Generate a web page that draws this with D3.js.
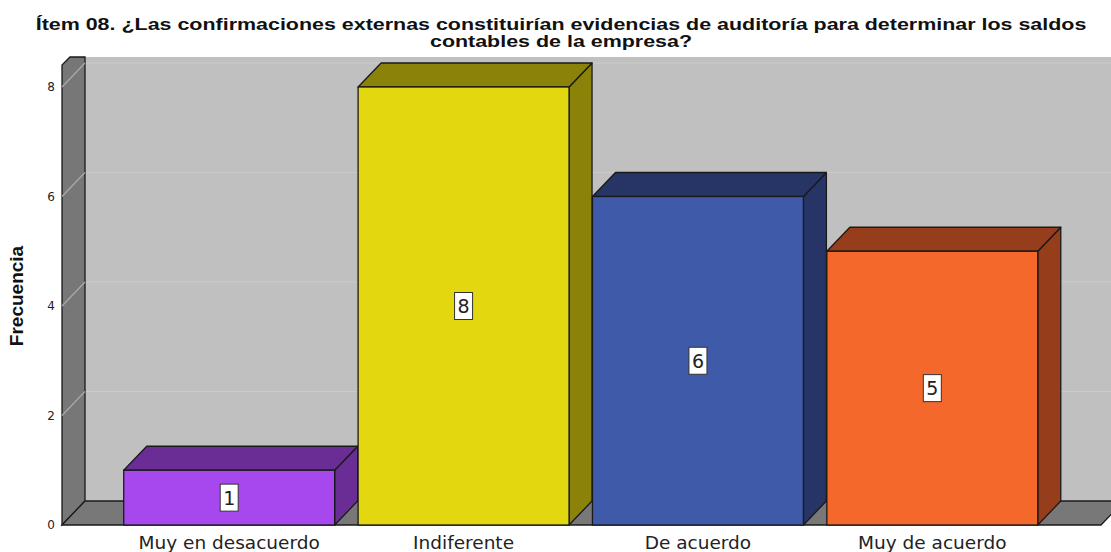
<!DOCTYPE html>
<html>
<head>
    <meta charset="utf-8">
    <script type="text/javascript" src="https://cdn.jsdelivr.net/npm/d3@7/dist/d3.min.js" charset="utf-8"></script>
    <style>
        body { margin: 0; background: #fff; }
        svg { display: block; }
    </style>
</head>
<body>
    <div id="viz"></div>
    <script type="text/javascript">
    //Data
    var categories = ["Muy en desacuerdo", "Indiferente", "De acuerdo", "Muy de acuerdo"];
    var counts = [1, 8, 6, 5];
    var yTicks = [0, 2, 4, 6, 8];
    var frontColors = ["#a748ef", "#e3d70f", "#3f5aa8", "#f4692b"];
    var sideColors = ["#6a2d95", "#8b8209", "#263566", "#963e1c"];
    var titleLines = ["Ítem 08. ¿Las confirmaciones externas constituirían evidencias de auditoría para determinar los saldos",
                      "contables de la empresa?"];

    //Sizes
    var width = 1111;
    var height = 552;
    var dx = 23;            //depth offset, horizontal
    var dy = 24;            //depth offset, vertical
    var floorLeft = 62;
    var floorRight = 1101;
    var topBack = 57;
    var titleWidth = 1051;  //width of the first title line in the picture

    var svg = d3.select("#viz")
        .append("svg")
        .attr("width", width)
        .attr("height", height);

    //Scales
    var y = d3.scaleLinear().domain([0, 8]).range([525, 87]);
    var x = d3.scaleBand().domain(categories)
        .range([112, 1049.5])
        .paddingInner(0.1)
        .paddingOuter(0.05);

    var y0 = y(0);

    function pts(arr) { return arr.map(function(p) { return p.join(","); }).join(" "); }

    //Back wall
    svg.append("rect")
        .attr("x", floorLeft + dx)
        .attr("y", topBack)
        .attr("width", width - floorLeft - dx)
        .attr("height", y0 - dy - topBack)
        .attr("fill", "#c0c0c0");

    //Gridlines on back wall
    svg.selectAll("line.grid")
        .data(yTicks.filter(function(d) { return d > 0; }))
        .enter()
        .append("line")
        .attr("class", "grid")
        .attr("x1", floorLeft + dx)
        .attr("x2", width)
        .attr("y1", function(d) { return y(d) - dy; })
        .attr("y2", function(d) { return y(d) - dy; })
        .attr("stroke", "#cbcbcb")
        .attr("stroke-width", 1.2);

    //Left wall
    var wallPts = [[floorLeft, y0], [floorLeft, y(8.4)], [floorLeft + 8, topBack],
                   [floorLeft + dx, topBack], [floorLeft + dx, y0 - dy]];
    svg.append("polygon")
        .attr("points", pts(wallPts))
        .attr("fill", "#777777")
        .attr("stroke", "#1a1a1a")
        .attr("stroke-width", 1.3);

    //Gridlines on left wall
    svg.selectAll("line.wallgrid")
        .data(yTicks.filter(function(d) { return d > 0; }))
        .enter()
        .append("line")
        .attr("class", "wallgrid")
        .attr("x1", floorLeft)
        .attr("x2", floorLeft + dx)
        .attr("y1", function(d) { return y(d); })
        .attr("y2", function(d) { return y(d) - dy; })
        .attr("stroke", "#a8a8a8")
        .attr("stroke-width", 1.3);

    //Floor
    var floorPts = [[floorLeft, y0], [floorLeft + dx, y0 - dy], [floorRight + dx, y0 - dy], [floorRight, y0]];
    svg.append("polygon")
        .attr("points", pts(floorPts))
        .attr("fill", "#787878")
        .attr("stroke", "#1a1a1a")
        .attr("stroke-width", 1.3);

    //Bars
    var bars = svg.selectAll("g.bar")
        .data(categories)
        .enter()
        .append("g")
        .attr("class", "bar");

    //Right side
    bars.append("polygon")
        .attr("points", function(d, i) {
            var x1 = x(d) + x.bandwidth(), yt = y(counts[i]);
            return pts([[x1, yt], [x1 + dx, yt - dy], [x1 + dx, y0 - dy], [x1, y0]]);
        })
        .attr("fill", function(d, i) { return sideColors[i]; })
        .attr("stroke", "#1a1a1a")
        .attr("stroke-width", 1.3)
        .attr("stroke-linejoin", "round");

    //Top
    bars.append("polygon")
        .attr("points", function(d, i) {
            var x0 = x(d), x1 = x0 + x.bandwidth(), yt = y(counts[i]);
            return pts([[x0, yt], [x0 + dx, yt - dy], [x1 + dx, yt - dy], [x1, yt]]);
        })
        .attr("fill", function(d, i) { return sideColors[i]; })
        .attr("stroke", "#1a1a1a")
        .attr("stroke-width", 1.3)
        .attr("stroke-linejoin", "round");

    //Front
    bars.append("rect")
        .attr("x", function(d) { return x(d); })
        .attr("y", function(d, i) { return y(counts[i]); })
        .attr("width", x.bandwidth())
        .attr("height", function(d, i) { return y0 - y(counts[i]); })
        .attr("fill", function(d, i) { return frontColors[i]; })
        .attr("stroke", "#1a1a1a")
        .attr("stroke-width", 1.3);

    //Value labels
    bars.append("rect")
        .attr("x", function(d) { return x(d) + x.bandwidth() / 2 - 9; })
        .attr("y", function(d, i) { return y(counts[i] / 2) - 13.5; })
        .attr("width", 18)
        .attr("height", 27)
        .attr("fill", "#ffffff")
        .attr("stroke", "#333333")
        .attr("stroke-width", 1);

    bars.append("text")
        .attr("x", function(d) { return x(d) + x.bandwidth() / 2; })
        .attr("y", function(d, i) { return y(counts[i] / 2) + 7; })
        .attr("text-anchor", "middle")
        .style("font-family", "'DejaVu Sans', sans-serif")
        .style("font-size", "19px")
        .style("fill", "#222")
        .text(function(d, i) { return counts[i]; });

    //Y axis tick labels
    var yAxis = d3.axisLeft(y).tickValues(yTicks).tickSize(0).tickPadding(6);
    var yAxisG = svg.append("g")
        .attr("transform", "translate(" + (floorLeft - 1) + ",0)")
        .call(yAxis);
    yAxisG.select(".domain").remove();
    yAxisG.selectAll("text")
        .style("font-family", "'DejaVu Sans', sans-serif")
        .style("font-size", "12px")
        .style("fill", "#222");

    //X labels
    svg.selectAll("text.xlab")
        .data(categories)
        .enter()
        .append("text")
        .attr("class", "xlab")
        .attr("x", function(d) { return x(d) + x.bandwidth() / 2; })
        .attr("y", 549)
        .attr("text-anchor", "middle")
        .style("font-family", "'DejaVu Sans', sans-serif")
        .style("font-size", "18.5px")
        .style("fill", "#222")
        .text(function(d) { return d; });

    //Axis title
    svg.append("text")
        .attr("transform", "translate(23,296) rotate(-90)")
        .attr("text-anchor", "middle")
        .style("font-family", "'Liberation Sans', Arial, sans-serif")
        .style("font-weight", "bold")
        .style("font-size", "19px")
        .style("fill", "#111")
        .text("Frecuencia");

    //Title, stretched sideways to the width it has in the picture
    var titleG = svg.append("g");
    var titleTexts = titleG.selectAll("text.title")
        .data(titleLines)
        .enter()
        .append("text")
        .attr("class", "title")
        .attr("x", 0)
        .attr("y", function(d, i) { return 30 + i * 17; })
        .attr("text-anchor", "middle")
        .style("font-family", "'Liberation Sans', Arial, sans-serif")
        .style("font-weight", "bold")
        .style("font-size", "16.5px")
        .style("fill", "#111")
        .text(function(d) { return d; });
    var w0 = titleTexts.node().getComputedTextLength();
    var sx = titleWidth / w0;
    titleG.attr("transform", "translate(561,0) scale(" + sx + ",1)");
    </script>
</body>
</html>
